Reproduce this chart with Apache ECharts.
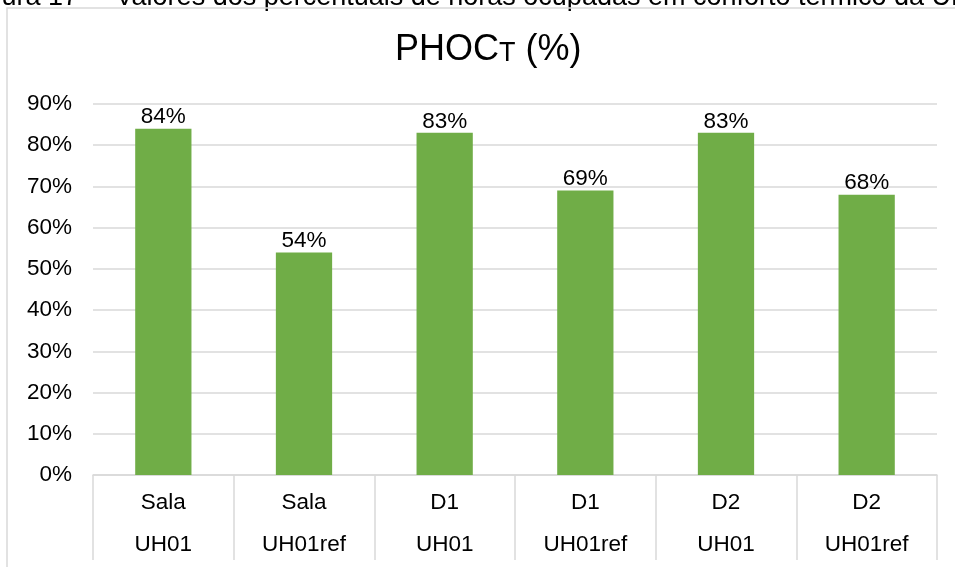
<!DOCTYPE html>
<html>
<head>
<meta charset="utf-8">
<script src="https://cdn.jsdelivr.net/npm/echarts@6/dist/echarts.min.js"></script>
<style>
  html, body { margin: 0; padding: 0; background: #fff; }
  #chart { width: 955px; height: 567px; }
</style>
</head>
<body>
<div id="chart"></div>
<script>
// dados
var ambientes = ['Sala', 'Sala', 'D1', 'D1', 'D2', 'D2'];
var unidades = ['UH01', 'UH01ref', 'UH01', 'UH01ref', 'UH01', 'UH01ref'];
var phoct = [84, 54, 83, 69, 83, 68];
var yTicks = [0, 10, 20, 30, 40, 50, 60, 70, 80, 90];

var categorias = ambientes.map(function (a, i) { return a + '\n' + unidades[i]; });

var chart = echarts.init(document.getElementById('chart'));
var fonte = 'Liberation Sans, Arial, sans-serif';

var option = {
  animation: false,
  textStyle: { fontFamily: fonte },
  graphic: [
    {
      type: 'text',
      x: -36,
      y: -16,
      style: {
        text: 'Figura 17 –  Valores dos percentuais de horas ocupadas em conforto térmico da UH01',
        font: '27px ' + fonte,
        fill: '#000'
      }
    },
    {
      type: 'rect',
      shape: { x: 7, y: 8, width: 1000, height: 700 },
      style: { fill: 'none', stroke: '#d9d9d9', lineWidth: 1.5 }
    }
  ],
  title: {
    text: '{a|PHOC}{b|T}{a| (%)}',
    left: 390,
    top: 27,
    textStyle: {
      rich: {
        a: { fontSize: 36, color: '#000', fontFamily: fonte, fontWeight: 'normal', verticalAlign: 'bottom' },
        b: { fontSize: 27, color: '#000', fontFamily: fonte, fontWeight: 'normal', verticalAlign: 'bottom', padding: [0, 0, 1, 0] }
      }
    }
  },
  grid: { left: 93, right: 18, top: 104, bottom: 92 },
  xAxis: {
    type: 'category',
    data: categorias,
    axisLine: { lineStyle: { color: '#d9d9d9', width: 1.5 } },
    axisTick: { show: true, length: 85, lineStyle: { color: '#d9d9d9', width: 1.5 } },
    axisLabel: {
      color: '#000',
      fontSize: 22.5,
      lineHeight: 42,
      margin: 7,
      interval: 0
    }
  },
  yAxis: {
    type: 'value',
    min: 0,
    max: 90,
    interval: 10,
    axisLine: { show: false },
    axisTick: { show: false },
    splitLine: { lineStyle: { color: '#d9d9d9', width: 1.5 } },
    axisLabel: {
      color: '#000',
      fontSize: 22.5,
      margin: 21,
      formatter: function (v) { return yTicks.indexOf(v) >= 0 ? v + '%' : ''; }
    }
  },
  series: [{
    type: 'bar',
    data: phoct,
    barWidth: '40%',
    itemStyle: { color: '#70ad47' },
    label: {
      show: true,
      position: 'top',
      distance: 0,
      color: '#000',
      fontSize: 22.5,
      formatter: '{c}%'
    }
  }]
};

chart.setOption(option);
</script>
</body>
</html>
